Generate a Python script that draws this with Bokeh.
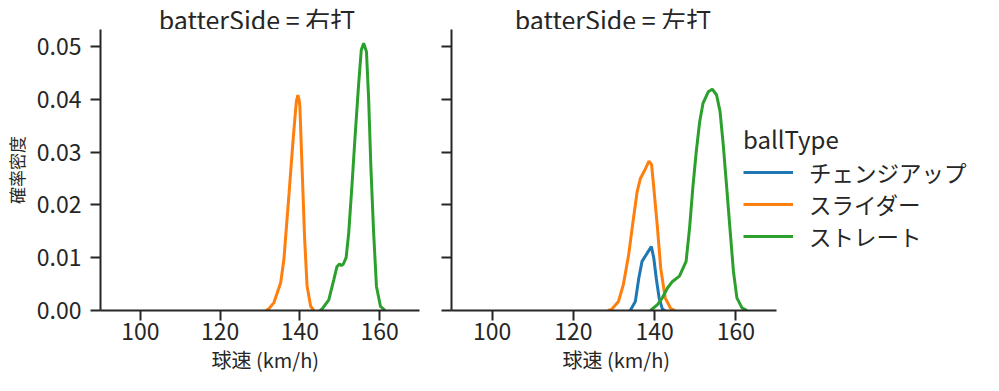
from bokeh.plotting import figure
from bokeh.layouts import row, column
from bokeh.models import (Range1d, FixedTicker, PrintfTickFormatter, Legend, LegendItem,
                          Title, Label)
from bokeh.embed import file_html
from bokeh.resources import INLINE

FONT = "Noto Sans CJK JP"
INK = "#262626"

panel_titles = ["batterSide = 右打", "batterSide = 左打"]
ball_types = ["チェンジアップ", "スライダー", "ストレート"]
colors = ["#1f77b4", "#ff7f0e", "#2ca02c"]
x_ticks = [100, 120, 140, 160]
y_ticks = [0.0, 0.01, 0.02, 0.03, 0.04, 0.05]
x_label = "球速 (km/h)"
y_label = "確率密度"
legend_title = "ballType"

# batterSide = 右打
r_slider_speed = [131.5, 132.2, 133.5, 135.2, 136.0, 137.3, 138.3, 139.0, 139.17, 139.5,
                  139.83, 140.0, 140.6, 141.2, 141.8, 142.7, 143.5]
r_slider_density = [0.0, 0.0003, 0.0015, 0.0053, 0.0097, 0.0223, 0.0323, 0.0386, 0.0398, 0.0408,
                    0.0398, 0.0386, 0.026, 0.0135, 0.0047, 0.0008, 0.0]
r_straight_speed = [145.0, 145.6, 147.25, 148.5, 149.3, 149.9, 150.4, 150.9, 151.6, 152.25,
                    153.1, 153.9, 154.75, 155.4, 156.0, 156.7, 157.25, 157.8, 158.5, 159.2,
                    160.2, 161.4]
r_straight_density = [0.0, 0.0003, 0.002, 0.0058, 0.0083, 0.0088, 0.0085, 0.0088, 0.0100, 0.0147,
                      0.0241, 0.0336, 0.043, 0.0493, 0.0506, 0.049, 0.04, 0.0273, 0.0147, 0.0046,
                      0.0008, 0.0]

# batterSide = 左打
l_change_speed = [134.0, 135.25, 136.1, 136.9, 138.2, 139.2, 139.8, 140.4, 141.1, 141.9, 142.5]
l_change_density = [0.0, 0.0017, 0.0061, 0.0093, 0.0109, 0.0121, 0.0099, 0.0061, 0.0024, 0.0003, 0.0]
l_slider_speed = [128.5, 129.4, 131.1, 132.3, 133.6, 134.8, 135.7, 136.5, 137.6, 138.6, 139.25,
                  139.8, 140.7, 141.5, 142.6, 144.0, 145.0]
l_slider_density = [0.0, 0.0002, 0.0017, 0.0049, 0.0105, 0.0175, 0.0225, 0.025, 0.0266, 0.0283,
                    0.0276, 0.0232, 0.0156, 0.008, 0.0024, 0.0003, 0.0]
l_straight_speed = [139.0, 140.7, 141.9, 143.2, 144.4, 146.1, 147.75, 148.6, 149.4, 150.25, 151.1,
                    151.9, 153.2, 154.2, 155.25, 156.1, 156.9, 157.75, 158.6, 159.4, 160.25,
                    161.5, 162.75]
l_straight_density = [0.0, 0.0011, 0.0024, 0.0043, 0.0055, 0.0065, 0.0093, 0.0156, 0.0232, 0.0301,
                      0.0358, 0.0392, 0.0414, 0.0419, 0.0408, 0.0377, 0.0313, 0.0232, 0.015,
                      0.0074, 0.0024, 0.0005, 0.0]

X_MIN, X_MAX = 90, 170
Y_MAX = 0.0532
FRAME_W = 325
PX_PER_KMH = FRAME_W / (X_MAX - X_MIN)
H = 345
HEADER_H = 29
W1, W2 = 435, 535


def make_panel(width, left, right, show_ylabels):
    frame_w = width - left - right
    x_hi = X_MIN + frame_w / PX_PER_KMH
    p = figure(width=width, height=H, x_range=Range1d(X_MIN, x_hi), y_range=Range1d(0, Y_MAX),
               output_backend="svg", toolbar_location=None,
               min_border_left=left, min_border_right=right,
               min_border_top=0, min_border_bottom=64)
    xl = Title(text=x_label, align="left", offset=111, text_font=FONT,
               text_font_size="20px", text_font_style="normal", text_color=INK,
               standoff=0)
    p.add_layout(xl, "below")
    p.outline_line_color = None
    p.grid.visible = False
    p.background_fill_color = "white"
    for ax in (p.xaxis[0], p.yaxis[0]):
        ax.axis_line_width = 2
        ax.axis_line_color = INK
        ax.major_tick_line_width = 2
        ax.major_tick_line_color = INK
        ax.major_tick_out = 10
        ax.major_tick_in = 0
        ax.minor_tick_line_color = None
        ax.major_label_text_font = FONT
        ax.major_label_text_font_size = "23px"
        ax.major_label_text_color = INK
        ax.axis_label_text_font = FONT
        ax.axis_label_text_font_size = "17px"
        ax.axis_label_text_font_style = "normal"
        ax.axis_label_text_color = INK
    p.xaxis.bounds = (X_MIN, X_MAX)
    p.xaxis.ticker = FixedTicker(ticks=x_ticks)
    p.yaxis.ticker = FixedTicker(ticks=y_ticks)
    p.yaxis.formatter = PrintfTickFormatter(format="%.2f")
    p.xaxis.major_label_standoff = 2
    if show_ylabels:
        p.yaxis.axis_label = y_label
        p.yaxis.major_label_standoff = 9
        p.yaxis.axis_label_standoff = 5
    else:
        p.yaxis.major_label_text_font_size = "0px"
        p.yaxis.major_label_standoff = 0
    return p


p1 = make_panel(W1, 94, 16, True)
p2 = make_panel(W2, 16, 0, False)

# header strip carrying the facet titles (text kept fully inside the strip)
header = figure(width=W1 + W2, height=HEADER_H, x_range=Range1d(0, W1 + W2),
                y_range=Range1d(0, HEADER_H), output_backend="svg", toolbar_location=None,
                x_axis_type=None, y_axis_type=None, min_border=0)
header.outline_line_color = None
header.grid.visible = False
for cx, title in ((94 + FRAME_W / 2, panel_titles[0]), (W1 + 16 + FRAME_W / 2 - 1, panel_titles[1])):
    header.add_layout(Label(x=cx, y=HEADER_H, x_units="screen", y_units="screen", text=title,
                            text_align="center", text_baseline="top", text_font=FONT,
                            text_font_size="25px", text_color=INK))

p1.line(r_slider_speed, r_slider_density, line_color=colors[1], line_width=3)
p1.line(r_straight_speed, r_straight_density, line_color=colors[2], line_width=3)

rc = p2.line(l_change_speed, l_change_density, line_color=colors[0], line_width=3)
rs = p2.line(l_slider_speed, l_slider_density, line_color=colors[1], line_width=3)
rt = p2.line(l_straight_speed, l_straight_density, line_color=colors[2], line_width=3)

legend = Legend(items=[LegendItem(label=ball_types[0], renderers=[rc]),
                       LegendItem(label=ball_types[1], renderers=[rs]),
                       LegendItem(label=ball_types[2], renderers=[rt])],
                location=(292, 58), title=legend_title,
                title_text_font=FONT, title_text_font_size="24px", title_text_font_style="normal",
                title_text_color=INK, title_standoff=0,
                label_text_font=FONT, label_text_font_size="22.5px", label_text_color=INK,
                glyph_width=50, glyph_height=20, label_height=20, label_standoff=16,
                spacing=-3, padding=0, margin=0,
                border_line_color=None, background_fill_alpha=0)
p2.add_layout(legend, "center")

layout = column(header, row(p1, p2))
open("out.html", "w").write(file_html(layout, INLINE))
